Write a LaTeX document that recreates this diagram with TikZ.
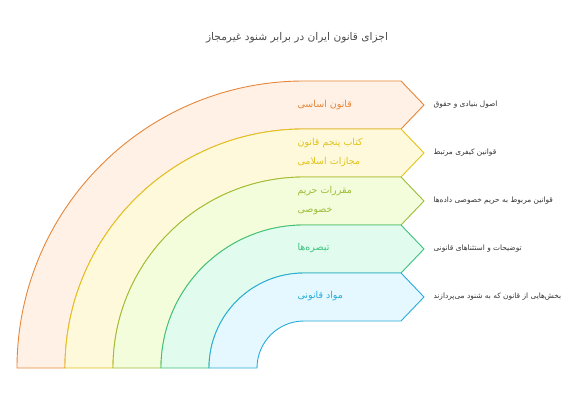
\documentclass[tikz,border=0pt]{standalone}
\usepackage{fontspec}
\usepackage{xcolor}
\newfontfamily\arabicfont[Script=Arabic]{DejaVu Sans}
\TeXXeTstate=1
\definecolor{orangeline}{HTML}{E5863A}
\definecolor{orangefill}{HTML}{FFF1E5}
\definecolor{yellowline}{HTML}{E2C31A}
\definecolor{yellowfill}{HTML}{FFF9DB}
\definecolor{limeline}{HTML}{9CBD38}
\definecolor{limefill}{HTML}{F3FDDC}
\definecolor{greenline}{HTML}{3DC27D}
\definecolor{greenfill}{HTML}{E1FCEF}
\definecolor{blueline}{HTML}{27ACDA}
\definecolor{bluefill}{HTML}{E6F8FF}
\tikzset{
  band/.style={line width=0.9pt, line join=miter},
  bandlabel/.style={anchor=west, align=left, font=\arabicfont\fontsize{9.5}{19}\selectfont},
  sidelabel/.style={anchor=west, text=black!80, font=\arabicfont\fontsize{7.4}{8}\selectfont},
}

\begin{document}
\begin{tikzpicture}[x=1pt, y=1pt]
    \useasboundingbox (0,0) rectangle (586,402);
    % bands, outer to inner
    \draw[band, draw=orangeline, fill=orangefill] (17,34) arc[start angle=180, end angle=90, radius=287pt] -- (401,321) -- (424,297) -- (401,273) -- (304,273) arc[start angle=90, end angle=180, radius=239pt] -- cycle;
    \draw[band, draw=yellowline, fill=yellowfill] (65,34) arc[start angle=180, end angle=90, radius=239pt] -- (401,273) -- (424,249) -- (401,225) -- (304,225) arc[start angle=90, end angle=180, radius=191pt] -- cycle;
    \draw[band, draw=limeline, fill=limefill] (113,34) arc[start angle=180, end angle=90, radius=191pt] -- (401,225) -- (424,201) -- (401,177) -- (304,177) arc[start angle=90, end angle=180, radius=143pt] -- cycle;
    \draw[band, draw=greenline, fill=greenfill] (161,34) arc[start angle=180, end angle=90, radius=143pt] -- (401,177) -- (424,153) -- (401,129) -- (304,129) arc[start angle=90, end angle=180, radius=95pt] -- cycle;
    \draw[band, draw=blueline, fill=bluefill] (209,34) arc[start angle=180, end angle=90, radius=95pt] -- (401,129) -- (424,105) -- (401,81) -- (304,81) arc[start angle=90, end angle=180, radius=47pt] -- cycle;
    % title
    \node[text=black!70, font=\arabicfont\fontsize{10.6}{12}\selectfont] (title) at (297,364) {\beginR اجزای قانون ایران در برابر شنود غیرمجاز\endR};
    % band labels
    \node[bandlabel, text=orangeline] (asasi) at (294,297) {\beginR قانون اساسی\endR};
    \node[bandlabel, text=yellowline] (ketab) at (294,249.5) {\beginR کتاب پنجم قانون\endR\\\beginR مجازات اسلامی\endR};
    \node[bandlabel, text=limeline] (harim) at (294,201.5) {\beginR مقررات حریم\endR\\\beginR خصوصی\endR};
    \node[bandlabel, text=greenline] (tabsare) at (294,154) {\beginR تبصره‌ها\endR};
    \node[bandlabel, text=blueline] (mavad) at (294,106) {\beginR مواد قانونی\endR};
    % side labels
    \node[sidelabel] (osul) at (430,297) {\beginR اصول بنیادی و حقوق\endR};
    \node[sidelabel] (keyfari) at (430,249) {\beginR قوانین کیفری مرتبط\endR};
    \node[sidelabel] (dadeha) at (430,201) {\beginR قوانین مربوط به حریم خصوصی داده‌ها\endR};
    \node[sidelabel] (estesna) at (430,153) {\beginR توضیحات و استثناهای قانونی\endR};
    \node[sidelabel] (bakhsh) at (430,105) {\beginR بخش‌هایی از قانون که به شنود می‌پردازند\endR};
\end{tikzpicture}
\end{document}
